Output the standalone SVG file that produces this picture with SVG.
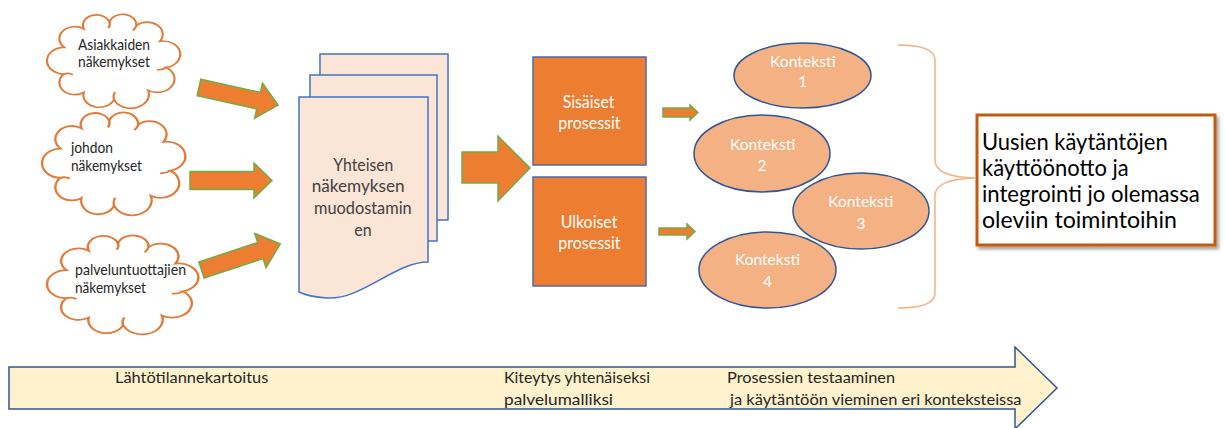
<svg xmlns="http://www.w3.org/2000/svg" xmlns:xlink="http://www.w3.org/1999/xlink" width="1225" height="428" viewBox="0 0 1225 428">
<style>
  text { font-family: "Lato", "Liberation Sans", sans-serif; }
  .cloud { fill: #FFFFFF; stroke: #E07B39; stroke-width: 1.5; vector-effect: non-scaling-stroke; }
  .curl { fill: none; stroke: #E07B39; stroke-width: 1.5; vector-effect: non-scaling-stroke; }
  .ctext { font-size: 15px; fill: #262626; }
  .blk { fill: #ED7D31; stroke: #70AD47; stroke-width: 1.5; stroke-linejoin: miter; }
  .doc { fill: #FBE5D6; stroke: #4472C4; stroke-width: 1.5; }
  .dtext { font-size: 17.5px; fill: #404040; }
  .proc { fill: #ED7D31; stroke: #4F6BA8; stroke-width: 1.5; }
  .ptext { font-size: 17.5px; fill: #FFFFFF; }
  .ctx { fill: #F4B183; stroke: #2F5597; stroke-width: 1.5; }
  .xtext { font-size: 15.5px; fill: #FFFFFF; }
  .xnum { font-size: 15.5px; fill: #FFFFFF; text-anchor: middle; }
  .brace { fill: none; stroke: #F4B183; stroke-width: 1.5; }
  .rtext { font-size: 23.5px; fill: #000000; }
  .tl { fill: #FFF2CC; stroke: #2F5597; stroke-width: 1.5; }
  .ttext { font-size: 16px; fill: #262626; }
</style>
<defs>
  <path id="cloudshape" d="M15.2,38 A10.8,10.8 0 0 1 28.8,21.3 A9.5,9.5 0 0 1 46.8,15.1 A9.6,9.6 0 0 1 65.6,18.3 A10.9,10.9 0 0 1 82,32.5 A12,12 0 0 1 86.4,56.1 A12.1,12.1 0 0 1 73.8,76.8 A12.6,12.6 0 0 1 50,85 A11.1,11.1 0 0 1 28.8,78.7 A10.8,10.8 0 0 1 15.2,62 A12,12 0 0 1 15.2,38 Z"/>
  <path id="cloudcurls" d="M46.8,15.1 q0.8,3 -0.8,5.5 M86.4,56.1 q-2.5,2.5 -6.5,2 M50,85 q-1,-3.5 0.8,-6.5 M15.2,62 q3.5,-1.2 6,0.8 M65.6,18.3 q-0.5,2.5 -2.5,4.5"/>
  <filter id="shadow" x="-10%" y="-10%" width="125%" height="130%">
    <feDropShadow dx="2.5" dy="3" stdDeviation="1.5" flood-color="#000000" flood-opacity="0.35"/>
  </filter>
</defs>

<!-- Clouds -->
<g id="cloud1">
  <use xlink:href="#cloudshape" class="cloud" transform="translate(42.4,5.2) scale(1.433,1.109)"/>
  <use xlink:href="#cloudcurls" class="curl" transform="translate(42.4,5.2) scale(1.433,1.109)"/>
  <text class="ctext" x="78" y="49.5" textLength="72" lengthAdjust="spacingAndGlyphs">Asiakkaiden</text>
  <text class="ctext" x="78" y="67" textLength="72" lengthAdjust="spacingAndGlyphs">näkemykset</text>
</g>
<g id="cloud2">
  <use xlink:href="#cloudshape" class="cloud" transform="translate(37.1,102.5) scale(1.541,1.214)"/>
  <use xlink:href="#cloudcurls" class="curl" transform="translate(37.1,102.5) scale(1.541,1.214)"/>
  <text class="ctext" x="71" y="152.5" textLength="42" lengthAdjust="spacingAndGlyphs">johdon</text>
  <text class="ctext" x="71" y="170.5" textLength="71" lengthAdjust="spacingAndGlyphs">näkemykset</text>
</g>
<g id="cloud3">
  <use xlink:href="#cloudshape" class="cloud" transform="translate(41.8,225.8) scale(1.627,1.167)"/>
  <use xlink:href="#cloudcurls" class="curl" transform="translate(41.8,225.8) scale(1.627,1.167)"/>
  <text class="ctext" x="75" y="275" textLength="111" lengthAdjust="spacingAndGlyphs">palveluntuottajien</text>
  <text class="ctext" x="75" y="293" textLength="71" lengthAdjust="spacingAndGlyphs">näkemykset</text>
</g>

<!-- Document stack -->
<g id="doc">
  <rect class="doc" x="320" y="54" width="128" height="166"/>
  <rect class="doc" x="310" y="75" width="127" height="166"/>
  <path class="doc" d="M299,97 H428 V262 C395,262 362,300 327,298 C313,297 305,295 299,292 Z"/>
  <text class="dtext" x="333.3" y="170.5" textLength="60" lengthAdjust="spacingAndGlyphs">Yhteisen</text>
  <text class="dtext" x="311.7" y="192" textLength="93" lengthAdjust="spacingAndGlyphs">näkemyksen</text>
  <text class="dtext" x="314" y="214" textLength="97.7" lengthAdjust="spacingAndGlyphs">muodostamin</text>
  <text class="dtext" x="354.3" y="236" textLength="17.3" lengthAdjust="spacingAndGlyphs">en</text>
</g>

<!-- Processes -->
<g id="proc-internal">
  <rect class="proc" x="533" y="57" width="113" height="108"/>
  <text class="ptext" x="562.7" y="108" textLength="51.7" lengthAdjust="spacingAndGlyphs">Sisäiset</text>
  <text class="ptext" x="558.3" y="128.5" textLength="62.3" lengthAdjust="spacingAndGlyphs">prosessit</text>
</g>
<g id="proc-external">
  <rect class="proc" x="533" y="177" width="113" height="109"/>
  <text class="ptext" x="560.7" y="228" textLength="56.7" lengthAdjust="spacingAndGlyphs">Ulkoiset</text>
  <text class="ptext" x="558.3" y="248.5" textLength="62.3" lengthAdjust="spacingAndGlyphs">prosessit</text>
</g>

<!-- Contexts -->
<g id="ctx1">
  <ellipse class="ctx" cx="802.5" cy="75.5" rx="68.5" ry="32.5"/>
  <text class="xtext" x="770" y="66.5" textLength="65.7" lengthAdjust="spacingAndGlyphs">Konteksti</text>
  <text class="xnum" x="802.7" y="87">1</text>
</g>
<g id="ctx2">
  <ellipse class="ctx" cx="762" cy="153.5" rx="68" ry="38.5"/>
  <text class="xtext" x="730" y="149.5" textLength="65.3" lengthAdjust="spacingAndGlyphs">Konteksti</text>
  <text class="xnum" x="762" y="171">2</text>
</g>
<g id="ctx3">
  <ellipse class="ctx" cx="861" cy="211" rx="68" ry="38"/>
  <text class="xtext" x="828.3" y="207" textLength="65" lengthAdjust="spacingAndGlyphs">Konteksti</text>
  <text class="xnum" x="861" y="228.5">3</text>
</g>
<g id="ctx4">
  <ellipse class="ctx" cx="767.5" cy="270" rx="68.5" ry="38"/>
  <text class="xtext" x="735" y="265" textLength="65" lengthAdjust="spacingAndGlyphs">Konteksti</text>
  <text class="xnum" x="767.5" y="286.5">4</text>
</g>

<!-- Brace -->
<g id="brace">
  <path class="brace" d="M898,45 Q935,45 935,60 V160 Q935,177 975,178 Q935,179 935,196 V293 Q935,308 898,308"/>
</g>

<!-- Result -->
<g id="result">
  <rect x="977" y="115" width="238" height="130" fill="#FFFFFF" stroke="#C55A11" stroke-width="3" filter="url(#shadow)"/>
  <text class="rtext" x="982" y="150" textLength="185.7" lengthAdjust="spacingAndGlyphs">Uusien käytäntöjen</text>
  <text class="rtext" x="982" y="176" textLength="146.7" lengthAdjust="spacingAndGlyphs">käyttöönotto ja</text>
  <text class="rtext" x="982" y="202" textLength="217.7" lengthAdjust="spacingAndGlyphs">integrointi jo olemassa</text>
  <text class="rtext" x="982" y="228" textLength="195" lengthAdjust="spacingAndGlyphs">oleviin toimintoihin</text>
</g>

<!-- Connectors (block arrows) -->
<g id="connectors">
  <path class="blk" d="M0,-8.5 H61 V-18 L81,0 L61,18 V8.5 H0 Z" transform="translate(199,87.5) rotate(12.5)"/>
  <path class="blk" d="M190,171.5 H254 V163 L272,180.5 L254,198 V189.5 H190 Z"/>
  <path class="blk" d="M0,-8.5 H62 V-18 L83,0 L62,18 V8.5 H0 Z" transform="translate(201.5,270) rotate(-18.3)"/>
  <path class="blk" d="M462,152 H498 V136 L530,168 L498,201 V183 H462 Z"/>
  <path class="blk" d="M663,108 H690 V105 L698,112.5 L690,120 V117 H663 Z"/>
  <path class="blk" d="M659,228 H687 V224 L695,231.5 L687,239 V235 H659 Z"/>
</g>

<!-- Timeline -->
<g id="timeline">
  <path class="tl" d="M9,367 H1015 V347 L1057,388 L1015,429 V409 H9 Z"/>
  <text class="ttext" x="115" y="383.3" textLength="153.3" lengthAdjust="spacingAndGlyphs">Lähtötilannekartoitus</text>
  <text class="ttext" x="504" y="383.3" textLength="146" lengthAdjust="spacingAndGlyphs">Kiteytys yhtenäiseksi</text>
  <text class="ttext" x="504" y="405" textLength="109" lengthAdjust="spacingAndGlyphs">palvelumalliksi</text>
  <text class="ttext" x="727" y="383.3" textLength="168" lengthAdjust="spacingAndGlyphs">Prosessien testaaminen</text>
  <text class="ttext" x="730" y="405" textLength="291.5" lengthAdjust="spacingAndGlyphs">ja käytäntöön vieminen eri konteksteissa</text>
</g>
</svg>
